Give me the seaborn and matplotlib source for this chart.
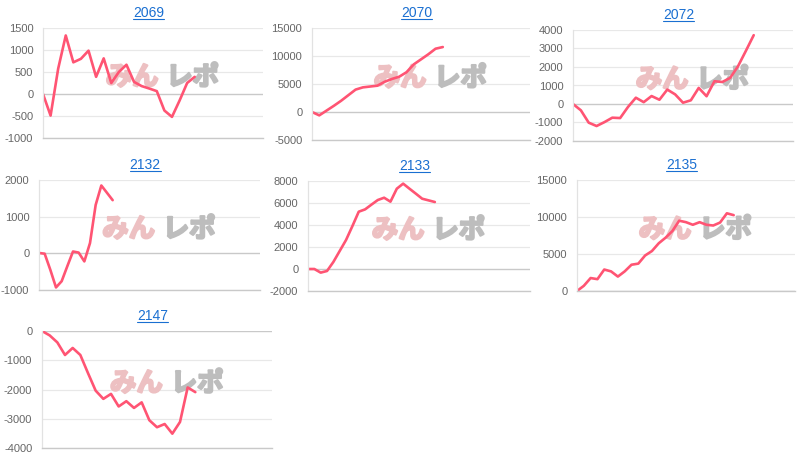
import numpy as np
import pandas as pd
import seaborn as sns
import matplotlib
matplotlib.use("Agg")
import matplotlib.pyplot as plt
import matplotlib.patheffects as pe
from matplotlib.lines import Line2D

# machine ids (panel titles)
titles = ["2069", "2070", "2072", "2132", "2133", "2135", "2147"]

# running difference per machine
v_2069 = [0, -490, 575, 1330, 720, 800, 985, 390, 810, 250, 500, 665, 275, 180,
          125, 65, -375, -520, -150, 250, 390]
v_2070 = [0, -600, 250, 1100, 2000, 3000, 4000, 4400, 4550, 4700, 5400, 5900,
          6300, 7100, 8500, 9400, 10300, 11300, 11600]
v_2072 = [0, -340, -1010, -1190, -980, -740, -760, -160, 340, 100, 430, 230, 780,
          520, 70, 200, 870, 420, 1230, 1190, 1410, 2040, 2870, 3720]
v_2132 = [10, -10, -450, -930, -760, -350, 50, 20, -220, 280, 1320, 1850, 1650, 1450]
v_2133 = [0, 0, -330, -180, 640, 1640, 2640, 3900, 5210, 5420, 5850, 6270, 6480,
          6120, 7300, 7760, 7300, 6850, 6390, 6240, 6090]
v_2135 = [0, 700, 1750, 1600, 2900, 2650, 1950, 2650, 3550, 3700, 4800, 5400, 6450,
          7200, 8100, 9500, 9300, 8950, 9300, 8950, 8850, 9250, 10500, 10250]
v_2147 = [0, -150, -390, -820, -580, -820, -1440, -2040, -2320, -2150, -2580, -2400,
          -2630, -2440, -3050, -3290, -3180, -3510, -3110, -1930, -2090]
series = [v_2069, v_2070, v_2072, v_2132, v_2133, v_2135, v_2147]

# number of x categories on each chart (days), y ranges and tick steps
n_days = [30, 31, 29, 40, 36, 33, 31]
y_ranges = [(-1000, 1500), (-5000, 15000), (-2000, 4000), (-1000, 2000),
            (-2000, 8000), (0, 15000), (-4000, 0)]
y_steps = [500, 5000, 1000, 1000, 2000, 5000, 1000]

# panel boxes in pixels: left, right, top, bottom
boxes = [(43, 263, 28, 138), (312, 530, 28, 140), (573, 793, 30, 141),
         (39, 260, 180, 290), (308, 530, 181, 291), (577, 795, 180, 291),
         (42, 272, 331, 448)]

sns.set_theme(style="white")
plt.rcParams['font.family'] = ['Liberation Sans', 'Noto Sans CJK JP', 'DejaVu Sans']

W, H = 800, 461
fig = plt.figure(figsize=(8, 4.61), dpi=100)
fig.patch.set_facecolor("white")

line_color = "#ff5473"
link_color = "#1a6fd1"
title_texts = []

for i in range(len(titles)):
    l, r, t, b = boxes[i]
    ax = fig.add_axes([l / W, 1 - b / H, (r - l) / W, (b - t) / H])
    df = pd.DataFrame({"day": np.arange(len(series[i])), "value": series[i]})
    sns.lineplot(data=df, x="day", y="value", ax=ax, color=line_color, lw=1.9)

    lo, hi = y_ranges[i]
    ax.set_xlim(0, n_days[i] - 1)
    ax.set_ylim(lo, hi)
    ticks = np.arange(lo, hi + 1, y_steps[i])
    ax.set_yticks(ticks)
    ax.set_yticklabels([str(int(v)) for v in ticks])
    ax.set_xticks([])
    ax.set_xlabel("")
    ax.set_ylabel("")
    ax.tick_params(axis="y", length=4, width=0.8, color="#e2e2e2", pad=3,
                   labelsize=8, labelcolor="#666666")

    for v in ticks:
        if v == 0:
            ax.axhline(v, color="#c9c9c9", lw=1.0, zorder=0.5)
        else:
            ax.axhline(v, color="#e8e8e8", lw=0.9, zorder=0.5)
    for s in ["top", "right"]:
        ax.spines[s].set_visible(False)
    ax.spines["left"].set_color("#e2e2e2")
    ax.spines["left"].set_linewidth(0.9)
    ax.spines["bottom"].set_color("#c9c9c9")
    ax.spines["bottom"].set_linewidth(1.0)
    ax.set_facecolor("white")

    # watermark
    ax.text(0.525, 0.55, "みん", transform=ax.transAxes, ha="right", va="center",
            fontsize=19, fontweight="bold", color="#edc0c2", zorder=0.8,
            family=["Noto Sans CJK JP"],
            path_effects=[pe.withStroke(linewidth=1.6, foreground="#edc0c2")])
    ax.text(0.56, 0.55, "レポ", transform=ax.transAxes, ha="left", va="center",
            fontsize=19, fontweight="bold", color="#bdbdbd", zorder=0.8,
            family=["Noto Sans CJK JP"],
            path_effects=[pe.withStroke(linewidth=1.6, foreground="#bdbdbd")])

    # link-styled title
    tt = ax.annotate(titles[i], xy=(0.48, 1.0), xycoords="axes fraction",
                     xytext=(0, 10.5), textcoords="offset points",
                     ha="center", va="center", fontsize=10, color=link_color)
    title_texts.append(tt)

# underline the titles like links
fig.canvas.draw()
renderer = fig.canvas.get_renderer()
for tt in title_texts:
    bb = tt.get_window_extent(renderer)
    y = bb.y0 + 1
    fig.add_artist(Line2D([bb.x0 / W, bb.x1 / W], [y / H, y / H],
                          transform=fig.transFigure, color=link_color, lw=0.8))

fig.savefig("out.png", dpi=100, facecolor="white")
